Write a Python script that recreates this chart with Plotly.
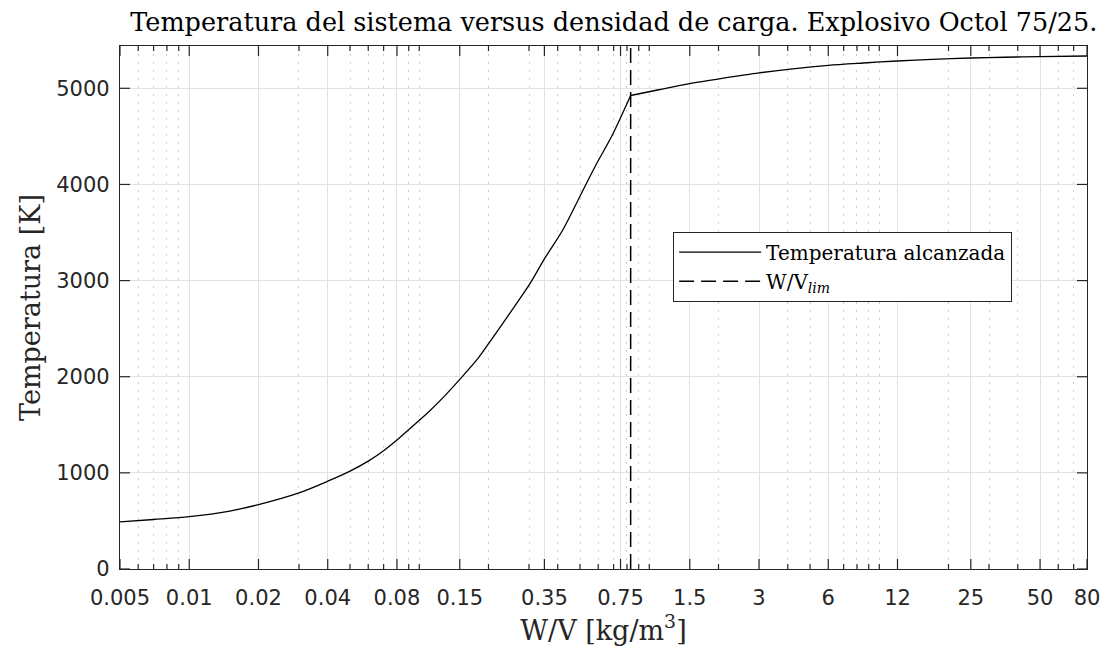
import math
import plotly.graph_objects as go

# ---- data ----
wv = [0.005, 0.007, 0.01, 0.015, 0.02, 0.03, 0.04, 0.05, 0.06, 0.07, 0.08,
      0.093, 0.11, 0.13, 0.15, 0.18, 0.21, 0.25, 0.3, 0.35, 0.42, 0.49,
      0.58, 0.69, 0.83, 1.1, 1.5, 2.1, 3, 4.2, 6, 8.5, 12, 17, 25, 35, 50, 80]
temp = [490, 515, 544, 603, 670, 792, 913, 1018, 1122, 1230, 1341,
        1479, 1635, 1809, 1972, 2190, 2415, 2675, 2952, 3225, 3524, 3836,
        4182, 4511, 4925, 4985, 5049, 5105, 5160, 5203, 5239, 5263, 5284, 5300, 5315, 5323, 5330, 5336]

wv_lim_value = 0.83
wv_lim = [wv_lim_value, wv_lim_value]
lim_y = [0, 5440]

x_ticks = [0.005, 0.01, 0.02, 0.04, 0.08, 0.15, 0.35, 0.75, 1.5, 3, 6, 12, 25, 50, 80]
x_ticklabels = ["0.005", "0.01", "0.02", "0.04", "0.08", "0.15", "0.35", "0.75",
                "1.5", "3", "6", "12", "25", "50", "80"]
x_minor = [0.006, 0.007, 0.008, 0.009, 0.03, 0.05, 0.06, 0.07, 0.09, 0.1,
           0.2, 0.3, 0.4, 0.5, 0.6, 0.7, 0.8, 0.9, 1, 2, 4, 5, 7, 8, 9, 10,
           20, 30, 40, 60, 70]
y_ticks = [0, 1000, 2000, 3000, 4000, 5000]
y_ticklabels = ["0", "1000", "2000", "3000", "4000", "5000"]
y_range = [0, 5440]
x_range = [math.log10(0.005), math.log10(80)]

k = wv.index(wv_lim_value)

fig = go.Figure()
fig.add_trace(go.Scatter(x=wv[:k + 1], y=temp[:k + 1], mode="lines",
                         name="Temperatura alcanzada", legendgroup="t",
                         line=dict(color="black", width=1.3, shape="spline", smoothing=0.8)))
fig.add_trace(go.Scatter(x=wv[k:], y=temp[k:], mode="lines",
                         name="Temperatura alcanzada", legendgroup="t", showlegend=False,
                         line=dict(color="black", width=1.3, shape="spline", smoothing=0.8)))
fig.add_trace(go.Scatter(x=wv_lim, y=lim_y, mode="lines", name="W/V<sub><i>lim</i></sub>",
                         line=dict(color="black", width=1.5, dash="15px,7px")))

axis_col = "#262626"
fig.update_layout(
    width=1112, height=652,
    margin=dict(l=120, r=22, t=46, b=83),
    paper_bgcolor="white", plot_bgcolor="white",
    title=dict(text="Temperatura del sistema versus densidad de carga. Explosivo Octol 75/25.",
               font=dict(family="DejaVu Serif", size=25.5, color="black"),
               xref="container", x=0.552, xanchor="center",
               yref="container", y=1 - 22 / 652, yanchor="middle"),
    showlegend=True,
    legend=dict(x=0.572, y=0.645, xanchor="left", yanchor="top",
                bgcolor="white", bordercolor=axis_col, borderwidth=1,
                font=dict(family="DejaVu Serif", size=20, color="black"),
                itemwidth=82, tracegroupgap=0),
)

fig.update_xaxes(
    type="log", range=x_range,
    tickmode="array", tickvals=x_ticks, ticktext=x_ticklabels,
    ticks="", showline=True, linecolor=axis_col, linewidth=1.3, mirror=True,
    showgrid=True, gridcolor="#e2e2e2", gridwidth=1,
    minor=dict(tickmode="array", tickvals=x_minor, ticks="", showgrid=True,
               gridcolor="#cdcdcd", griddash="2px,6px", gridwidth=1),
    tickfont=dict(family="DejaVu Sans", size=21, color=axis_col),
    ticklabelstandoff=10,
    title=dict(text="W/V [kg/m<sup>3</sup>]", font=dict(family="DejaVu Serif", size=27, color=axis_col),
               standoff=6),
    zeroline=False,
)
fig.update_yaxes(
    range=y_range, tickmode="array", tickvals=y_ticks, ticktext=y_ticklabels,
    ticks="", showline=True, linecolor=axis_col, linewidth=1.3, mirror=True,
    showgrid=True, gridcolor="#e2e2e2", gridwidth=1,
    tickfont=dict(family="DejaVu Sans", size=21, color=axis_col),
    ticklabelstandoff=5,
    title=dict(text="Temperatura [K]", font=dict(family="DejaVu Serif", size=27, color=axis_col),
               standoff=7),
    zeroline=False,
)

# tick marks pointing into the plot (MATLAB style), placed through the axes' own scales
tick_line = dict(color=axis_col, width=1.2)
for vals, length in ((x_ticks, 10), (x_minor, 5)):
    for v in vals:
        fig.add_shape(type="line", xref="x", yref="paper", ysizemode="pixel", yanchor=0,
                      x0=v, x1=v, y0=0, y1=length, line=tick_line, layer="above")
        fig.add_shape(type="line", xref="x", yref="paper", ysizemode="pixel", yanchor=1,
                      x0=v, x1=v, y0=0, y1=-length, line=tick_line, layer="above")
for v in y_ticks:
    fig.add_shape(type="line", xref="paper", yref="y", xsizemode="pixel", xanchor=0,
                  x0=0, x1=10, y0=v, y1=v, line=tick_line, layer="above")
    fig.add_shape(type="line", xref="paper", yref="y", xsizemode="pixel", xanchor=1,
                  x0=0, x1=-10, y0=v, y1=v, line=tick_line, layer="above")

fig.write_html("out.html")
